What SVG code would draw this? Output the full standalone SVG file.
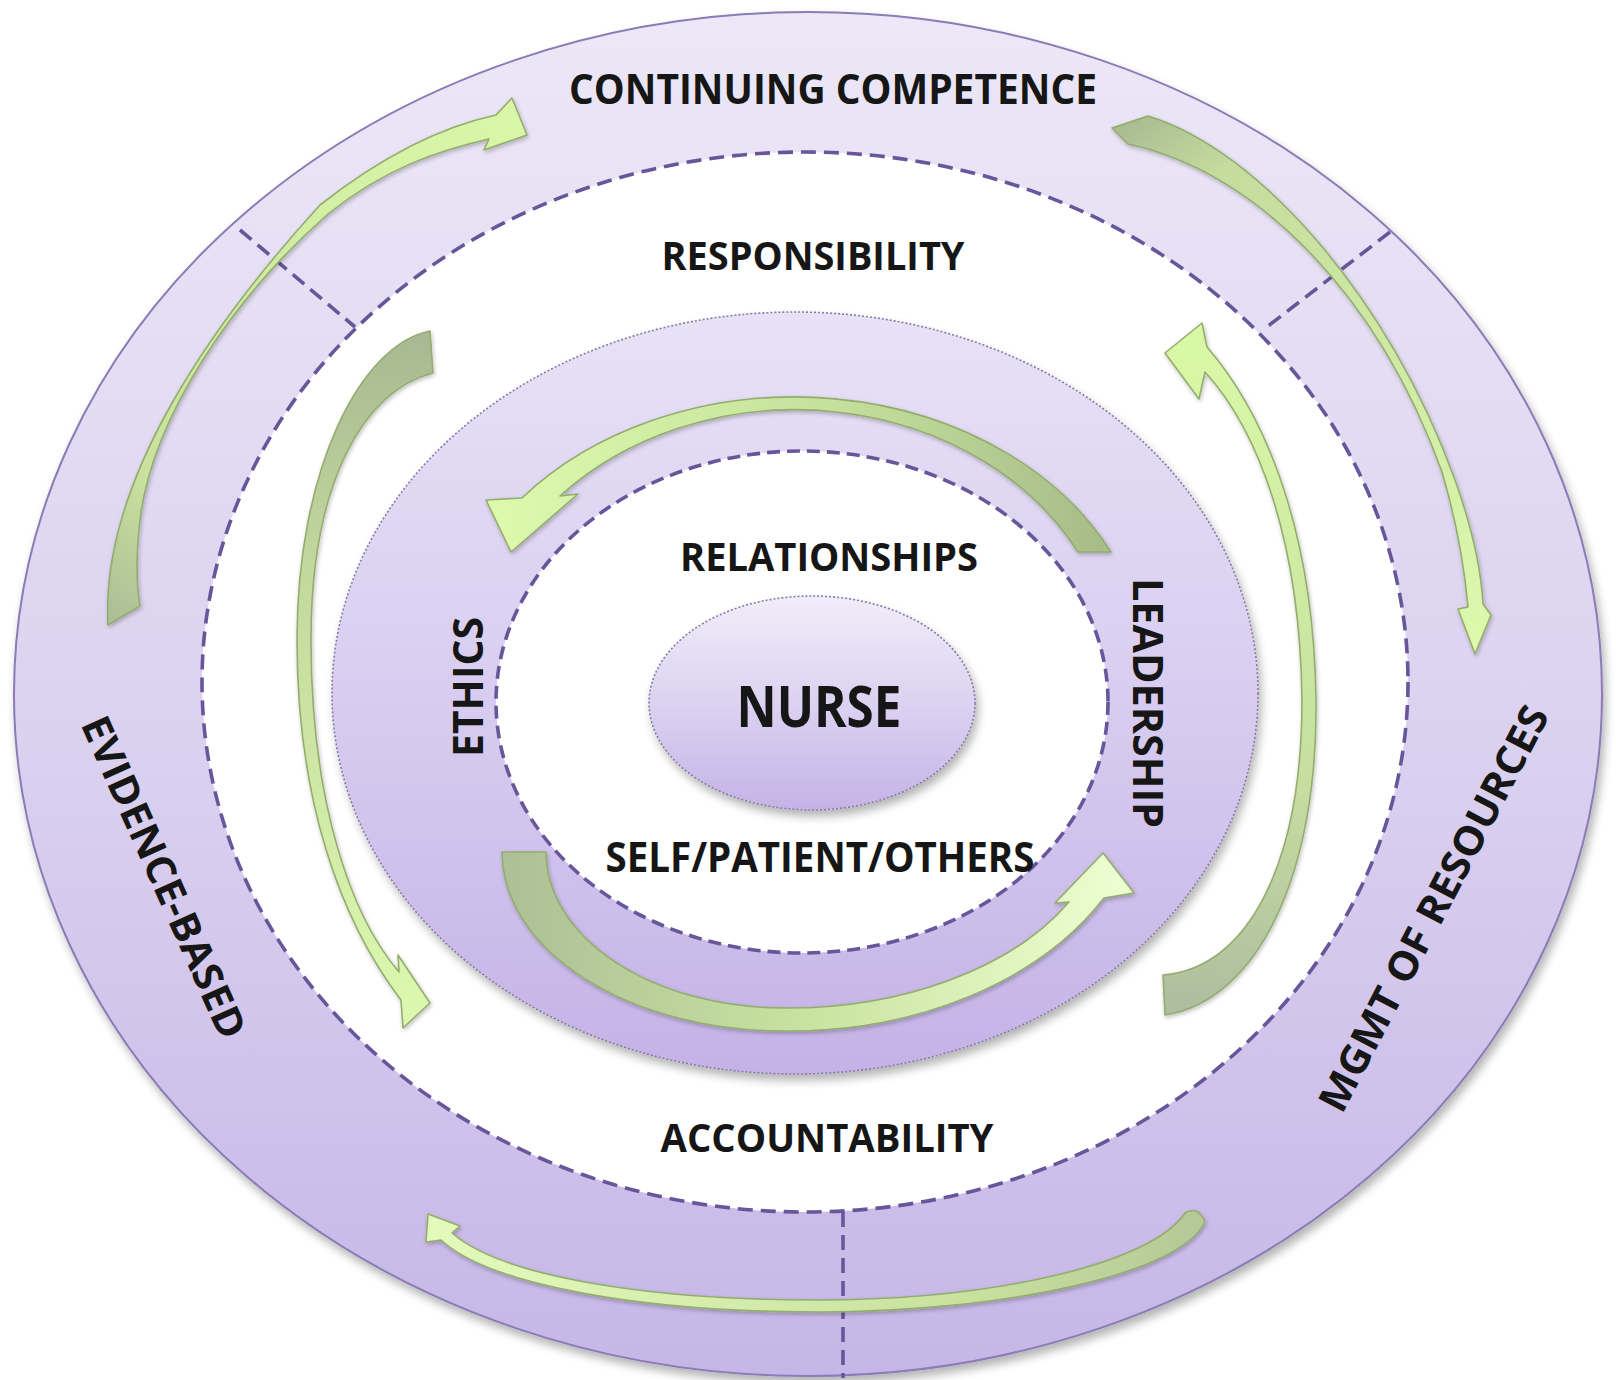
<svg xmlns="http://www.w3.org/2000/svg" width="1616" height="1380" viewBox="0 0 1616 1380">
  <defs>
    <linearGradient id="bandG" x1="0" y1="0" x2="0" y2="1">
      <stop offset="0" stop-color="#ece8f7"/>
      <stop offset="0.5" stop-color="#dcd3f0"/>
      <stop offset="1" stop-color="#c6b6e7"/>
    </linearGradient>
    <linearGradient id="midG" x1="0" y1="0" x2="0" y2="1">
      <stop offset="0" stop-color="#e8e2f6"/>
      <stop offset="0.5" stop-color="#d8cdf0"/>
      <stop offset="1" stop-color="#c4b2e6"/>
    </linearGradient>
    <linearGradient id="nurseG" x1="0" y1="0" x2="0" y2="1">
      <stop offset="0" stop-color="#f1edf9"/>
      <stop offset="0.5" stop-color="#dcd2f1"/>
      <stop offset="1" stop-color="#c5b3e6"/>
    </linearGradient>
    <linearGradient id="g1" gradientUnits="userSpaceOnUse" x1="120" y1="620" x2="520" y2="120">
      <stop offset="0" stop-color="#adbf97"/><stop offset="0.2" stop-color="#c8e29e"/><stop offset="1" stop-color="#d9f7a8"/>
    </linearGradient>
    <linearGradient id="g2" gradientUnits="userSpaceOnUse" x1="1120" y1="125" x2="1475" y2="650">
      <stop offset="0" stop-color="#a9bb92"/><stop offset="0.15" stop-color="#c4dc9e"/><stop offset="1" stop-color="#dcf9ac"/>
    </linearGradient>
    <linearGradient id="g3" gradientUnits="userSpaceOnUse" x1="1200" y1="1220" x2="430" y2="1215">
      <stop offset="0" stop-color="#b5c898"/><stop offset="0.3" stop-color="#c8e19f"/><stop offset="1" stop-color="#e2fbbd"/>
    </linearGradient>
    <linearGradient id="g4" gradientUnits="userSpaceOnUse" x1="430" y1="340" x2="420" y2="1010">
      <stop offset="0" stop-color="#a9b992"/><stop offset="0.35" stop-color="#c2d99e"/><stop offset="1" stop-color="#dcf8ae"/>
    </linearGradient>
    <linearGradient id="g5" gradientUnits="userSpaceOnUse" x1="1165" y1="1000" x2="1175" y2="350">
      <stop offset="0" stop-color="#b0bea0"/><stop offset="0.35" stop-color="#c6dfa0"/><stop offset="1" stop-color="#d9f8a6"/>
    </linearGradient>
    <linearGradient id="g6" gradientUnits="userSpaceOnUse" x1="1100" y1="550" x2="500" y2="520">
      <stop offset="0" stop-color="#a7bd8a"/><stop offset="0.45" stop-color="#c4e09c"/><stop offset="1" stop-color="#dcf9ac"/>
    </linearGradient>
    <linearGradient id="g7" gradientUnits="userSpaceOnUse" x1="510" y1="855" x2="1110" y2="860">
      <stop offset="0" stop-color="#adc097"/><stop offset="0.5" stop-color="#c8e3a0"/><stop offset="1" stop-color="#ecfdcf"/>
    </linearGradient>
    <filter id="sh" x="-10%" y="-10%" width="125%" height="125%">
      <feGaussianBlur in="SourceAlpha" stdDeviation="5" result="b"/>
      <feOffset in="b" dx="3" dy="6" result="o"/>
      <feComponentTransfer in="o" result="s"><feFuncA type="linear" slope="0.3"/></feComponentTransfer>
      <feMerge><feMergeNode in="s"/><feMergeNode in="SourceGraphic"/></feMerge>
    </filter>
    <filter id="ash" x="-20%" y="-20%" width="140%" height="140%">
      <feGaussianBlur in="SourceAlpha" stdDeviation="2" result="b"/>
      <feOffset in="b" dx="1" dy="2" result="o"/>
      <feComponentTransfer in="o" result="s"><feFuncA type="linear" slope="0.25"/></feComponentTransfer>
      <feMerge><feMergeNode in="s"/><feMergeNode in="SourceGraphic"/></feMerge>
    </filter>
  </defs>
  <style>
    .t { font-family: "Open Sans", "Liberation Sans", sans-serif; font-weight: 700; fill: #161616; }
    .dash { fill: none; stroke: #67579a; stroke-width: 3.6; stroke-dasharray: 15 8; }
    .dot { stroke: #857aa6; stroke-width: 1.6; stroke-dasharray: 2 2; }
    .arrow { stroke: #94ad6e; stroke-width: 1.6; stroke-linejoin: round; filter: url(#ash); }
  </style>
  <rect width="1616" height="1380" fill="#ffffff"/>

  <g id="outer-ring">
    <ellipse cx="808" cy="694" rx="794" ry="682" fill="url(#bandG)" stroke="#8a7bb5" stroke-width="2" filter="url(#sh)"/>
    <ellipse cx="805" cy="682" rx="603" ry="530" class="dash" style="fill:#ffffff"/>
    <text class="t" x="833" y="104" font-size="41" text-anchor="middle" textLength="528" lengthAdjust="spacingAndGlyphs">CONTINUING COMPETENCE</text>
    <text class="t" transform="translate(151,883) rotate(66)" font-size="40" text-anchor="middle" textLength="348" lengthAdjust="spacingAndGlyphs">EVIDENCE-BASED</text>
    <text class="t" transform="translate(1446,915) rotate(-62.5)" font-size="40" text-anchor="middle" textLength="451" lengthAdjust="spacingAndGlyphs">MGMT OF RESOURCES</text>
  </g>

  <g id="responsibility-ring">
    <text class="t" x="813" y="270" font-size="40" text-anchor="middle" textLength="303" lengthAdjust="spacingAndGlyphs">RESPONSIBILITY</text>
    <text class="t" x="827" y="1152" font-size="40" text-anchor="middle" textLength="333" lengthAdjust="spacingAndGlyphs">ACCOUNTABILITY</text>
  </g>

  <g id="middle-ring">
    <ellipse cx="795" cy="693" rx="463" ry="381" fill="url(#midG)" class="dot" filter="url(#sh)"/>
    <ellipse cx="802" cy="702" rx="306" ry="251" class="dash" style="fill:#ffffff;stroke-dasharray:13 7"/>
    <text class="t" transform="translate(483,687) rotate(-90)" font-size="41" text-anchor="middle" textLength="140" lengthAdjust="spacingAndGlyphs">ETHICS</text>
    <text class="t" transform="translate(1133,703) rotate(90)" font-size="41" text-anchor="middle" textLength="250" lengthAdjust="spacingAndGlyphs">LEADERSHIP</text>
  </g>

  <g id="inner-ring">
    <text class="t" x="829" y="571" font-size="40" text-anchor="middle" textLength="298" lengthAdjust="spacingAndGlyphs">RELATIONSHIPS</text>
    <text class="t" x="820" y="872" font-size="41" text-anchor="middle" textLength="429" lengthAdjust="spacingAndGlyphs">SELF/PATIENT/OTHERS</text>
  </g>

  <g id="nurse">
    <ellipse cx="812" cy="703" rx="163" ry="107" fill="url(#nurseG)" class="dot" filter="url(#sh)"/>
    <text class="t" x="819" y="727" font-size="58" text-anchor="middle" textLength="165" lengthAdjust="spacingAndGlyphs">NURSE</text>
  </g>

  <g id="connectors">
    <line class="dash" x1="240" y1="230" x2="355" y2="327"/>
    <line class="dash" x1="1390" y1="232" x2="1263" y2="330"/>
    <line class="dash" x1="843" y1="1212" x2="843" y2="1378"/>
    <path class="arrow" fill="url(#g1)" d="M 108 625 C 100 480, 215 320, 320 205 C 390 150, 450 125, 496 115 L 512 98 L 527 135 L 484 150 L 489 139 C 440 150, 385 168, 328 214 C 230 300, 152 420, 140 520 Q 134 570, 140 606 Z"/>
    <path class="arrow" fill="url(#g2)" d="M 1148 116 C 1260 150, 1390 300, 1455 480 Q 1480 550, 1483 604 L 1491 615 L 1475 654 L 1458 609 L 1468 607 Q 1462 540, 1442 472 C 1380 300, 1260 172, 1128 144 L 1112 128 Z"/>
    <path class="arrow" fill="url(#g3)" d="M 1205 1222 C 1180 1275, 1000 1312, 818 1312 C 640 1312, 490 1285, 441 1240 L 426 1242 L 428 1214 L 460 1226 L 452 1233 C 500 1275, 640 1300, 818 1300 C 990 1300, 1150 1265, 1185 1213 Q 1198 1205, 1205 1222 Z"/>
    <path class="arrow" fill="url(#g4)" d="M 430 331 C 360 345, 297 470, 297 640 C 297 800, 340 920, 401 1000 L 403 1028 L 430 1003 L 398 955 L 399 972 C 350 915, 311 800, 311 640 C 311 480, 365 390, 433 373 Z"/>
    <path class="arrow" fill="url(#g5)" d="M 1165 1015 C 1260 1000, 1318 870, 1316 700 C 1314 540, 1270 420, 1207 347 L 1202 323 L 1165 353 L 1199 399 L 1205 372 C 1258 430, 1300 540, 1302 700 C 1302 860, 1250 968, 1163 975 Z"/>
    <path class="arrow" fill="url(#g6)" d="M 1111 552 A 354 280 0 0 0 522 498 L 486 500 L 511 552 L 578 494 L 560 496 A 321 270 0 0 1 1078 552 Z"/>
    <path class="arrow" fill="url(#g7)" d="M 502 852 A 282 179 0 0 0 784 1031 A 360 260 0 0 0 1104 898 L 1134 893 L 1103 853 L 1055 903 L 1069 902 A 320 200 0 0 1 784 1008 A 238 156 0 0 1 546 852 Z"/>
  </g>
</svg>
